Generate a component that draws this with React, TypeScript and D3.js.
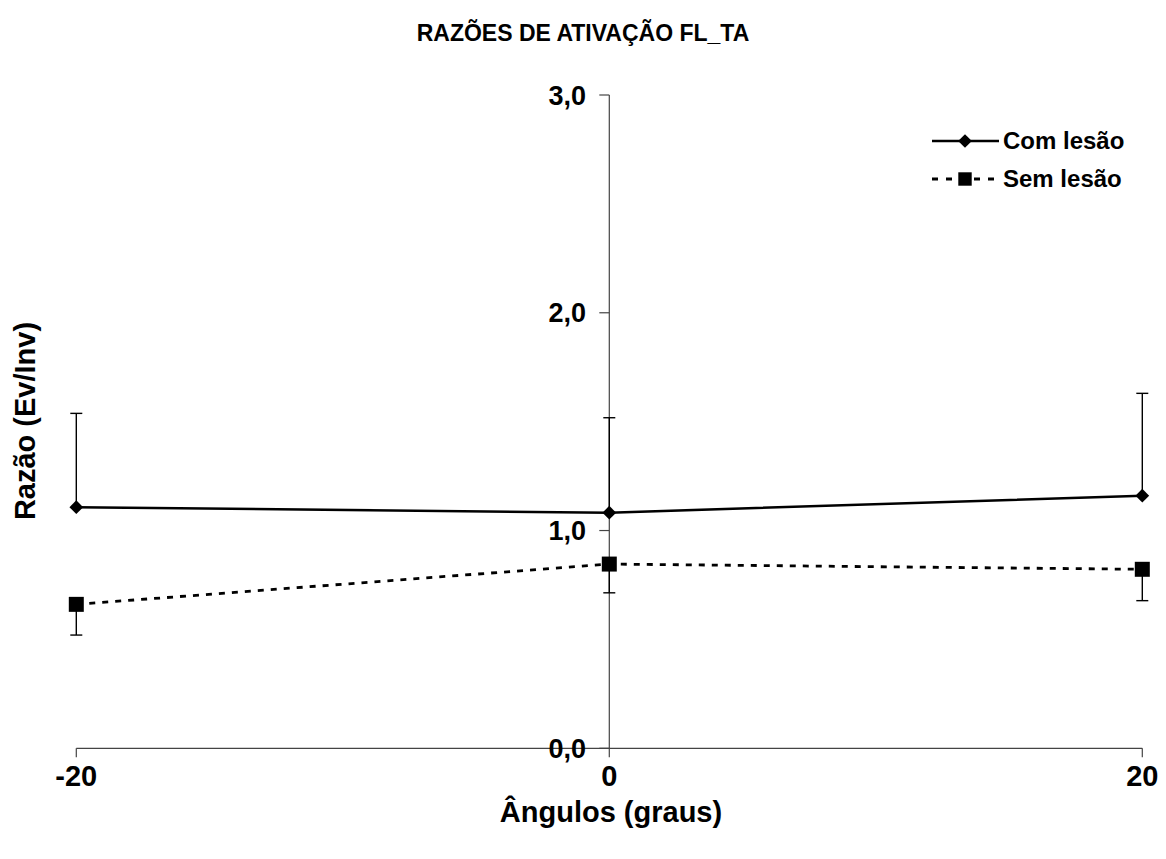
import React from "react";
import * as d3 from "d3";

const angles = [-20, 0, 20];
const comLesao = [1.107, 1.082, 1.16];
const comLesaoErr = [0.431, 0.436, 0.47];
const semLesao = [0.661, 0.846, 0.822];
const semLesaoErr = [0.141, 0.132, 0.144];
const yTicks = [0, 1, 2, 3];
const xTicks = [-20, 0, 20];

const W = 1166;
const H = 859;
const FONT = "Arial, 'Liberation Sans', Helvetica, sans-serif";

const fmtY = (v: number) => d3.format(".1f")(v).replace(".", ",");

export default function App() {
  const x = d3.scaleLinear().domain([-20, 20]).range([76.3, 1142.3]);
  const y = d3.scaleLinear().domain([0, 3]).range([748.3, 95]);

  const line = d3
    .line<number>()
    .x((_, i) => x(angles[i]))
    .y((d) => y(d));

  const diamond = d3.symbol().type(d3.symbolDiamond2).size(120)();
  const square = d3.symbol().type(d3.symbolSquare).size(225)();

  const x0 = x(0);
  const yBase = y(0);

  return (
    <svg
      width={W}
      height={H}
      viewBox={`0 0 ${W} ${H}`}
      style={{ position: "absolute", left: 0, top: 0, background: "#fff" }}
      fontFamily={FONT}
    >
      <rect width={W} height={H} fill="#fff" />

      {/* title */}
      <text x={583} y={41} textAnchor="middle" fontSize={23} fontWeight="bold">
        RAZÕES DE ATIVAÇÃO FL_TA
      </text>

      {/* x axis */}
      <line x1={x(-20)} x2={x(20)} y1={yBase} y2={yBase} stroke="#444" strokeWidth={1.2} />
      {xTicks.map((t) => (
        <g key={t}>
          <line x1={x(t)} x2={x(t)} y1={yBase} y2={yBase + 9} stroke="#444" strokeWidth={1.2} />
          <text x={x(t)} y={786} textAnchor="middle" fontSize={29} fontWeight="bold">
            {t}
          </text>
        </g>
      ))}

      {/* y axis at x = 0 */}
      <line x1={x0} x2={x0} y1={y(3)} y2={yBase} stroke="#444" strokeWidth={1.2} />
      {yTicks.map((t) => (
        <g key={t}>
          <line x1={x0 - 10} x2={x0} y1={y(t)} y2={y(t)} stroke="#444" strokeWidth={1.2} />
          <text x={586} y={y(t) + 9.5} textAnchor="end" fontSize={27} fontWeight="bold">
            {fmtY(t)}
          </text>
        </g>
      ))}

      {/* error bars: up for Com lesão, down for Sem lesão */}
      {angles.map((a, i) => {
        const cx = x(a);
        const top = y(comLesao[i] + comLesaoErr[i]);
        const bot = y(semLesao[i] - semLesaoErr[i]);
        return (
          <g key={`e${a}`} stroke="#000" strokeWidth={1.4}>
            <line x1={cx} x2={cx} y1={y(comLesao[i])} y2={top} />
            <line x1={cx - 6} x2={cx + 6} y1={top} y2={top} />
            <line x1={cx} x2={cx} y1={y(semLesao[i])} y2={bot} />
            <line x1={cx - 6} x2={cx + 6} y1={bot} y2={bot} />
          </g>
        );
      })}

      {/* series lines */}
      <path d={line(comLesao) ?? ""} fill="none" stroke="#000" strokeWidth={2.5} />
      <path d={line(semLesao) ?? ""} fill="none" stroke="#000" strokeWidth={2.8} strokeDasharray="6,7" />

      {/* markers */}
      {angles.map((a, i) => (
        <path key={`d${a}`} d={diamond ?? ""} transform={`translate(${x(a)},${y(comLesao[i])})`} fill="#000" />
      ))}
      {angles.map((a, i) => (
        <path key={`s${a}`} d={square ?? ""} transform={`translate(${x(a)},${y(semLesao[i])})`} fill="#000" />
      ))}

      {/* legend */}
      <g>
        <line x1={932} x2={999} y1={141} y2={141} stroke="#000" strokeWidth={2.5} />
        <path d={diamond ?? ""} transform="translate(965,141)" fill="#000" />
        <text x={1003} y={149} fontSize={24} fontWeight="bold">Com lesão</text>

        <line x1={932} x2={999} y1={179} y2={179} stroke="#000" strokeWidth={2.8} strokeDasharray="6,8" />
        <path d={d3.symbol().type(d3.symbolSquare).size(180)() ?? ""} transform="translate(965,179)" fill="#000" />
        <text x={1003} y={187} fontSize={24} fontWeight="bold">Sem lesão</text>
      </g>

      {/* axis titles */}
      <text x={611} y={822} textAnchor="middle" fontSize={29} fontWeight="bold">
        Ângulos (graus)
      </text>
      <text
        transform="translate(35,421) rotate(-90)"
        textAnchor="middle"
        fontSize={29}
        fontWeight="bold"
      >
        Razão (Ev/Inv)
      </text>
    </svg>
  );
}
